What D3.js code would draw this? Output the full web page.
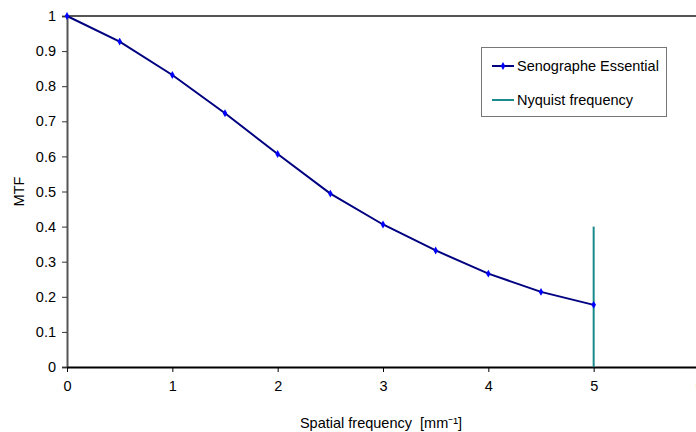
<!DOCTYPE html>
<html>
<head>
<meta charset="utf-8">
<script src="https://cdn.jsdelivr.net/npm/d3@7"></script>
<style>
  body { margin: 0; background: #fff; }
  text { font-family: "Liberation Sans", Arial, sans-serif; }
</style>
</head>
<body>
<div id="chart"></div>
<script>
// data
var freq = [0, 0.5, 1, 1.5, 2, 2.5, 3, 3.5, 4, 4.5, 5];
var mtf = [1, 0.927, 0.832, 0.723, 0.607, 0.494, 0.406, 0.332, 0.266, 0.214, 0.177];
var nyquistX = 5;
var nyquistTop = 0.4;
var xTicks = [0, 1, 2, 3, 4, 5, 6];
var yTicks = [0, 0.1, 0.2, 0.3, 0.4, 0.5, 0.6, 0.7, 0.8, 0.9, 1];

var svgWidth = 696;
var svgHeight = 432;

var margin = { top: 16, left: 67, bottom: 65 };
var plotBottom = svgHeight - margin.bottom;

var svg = d3.select("#chart")
  .append("svg")
  .attr("width", svgWidth)
  .attr("height", svgHeight);

var x = d3.scaleLinear().domain([0, 6]).range([margin.left, 699]);
var y = d3.scaleLinear().domain([0, 1]).range([plotBottom, margin.top]);

// top border line
svg.append("line")
  .attr("x1", x(0)).attr("x2", svgWidth)
  .attr("y1", y(1)).attr("y2", y(1))
  .attr("stroke", "#555").attr("stroke-width", 2);

// y axis
var yAxis = svg.append("g")
  .attr("transform", `translate(${x(0)},0)`)
  .call(d3.axisLeft(y).tickValues(yTicks).tickSize(5).tickPadding(6)
    .tickFormat(d => d3.format("~g")(d)));
yAxis.select(".domain").attr("stroke", "#555").attr("stroke-width", 2);
yAxis.selectAll(".tick line").attr("stroke", "#333");
yAxis.selectAll("text").style("font-size", "14.5px").attr("fill", "#000");

// x axis
var xAxis = svg.append("g")
  .attr("transform", `translate(0,${plotBottom})`)
  .call(d3.axisBottom(x).tickValues(xTicks).tickSize(5).tickPadding(9).tickSizeOuter(0)
    .tickFormat(d3.format("d")));
xAxis.select(".domain").attr("stroke", "#000").attr("stroke-width", 2);
xAxis.selectAll(".tick line").attr("stroke", "#000");
xAxis.selectAll("text").style("font-size", "14.5px").attr("fill", "#000");

// nyquist line
svg.append("line")
  .attr("x1", x(nyquistX)).attr("x2", x(nyquistX))
  .attr("y1", y(0)).attr("y2", y(nyquistTop))
  .attr("stroke", "#1a8a8a").attr("stroke-width", 2);

// MTF curve
var line = d3.line()
  .x((d, i) => x(freq[i]))
  .y(d => y(d));

svg.append("path")
  .datum(mtf)
  .attr("d", line)
  .attr("fill", "none")
  .attr("stroke", "#000080")
  .attr("stroke-width", 2);

svg.selectAll(".pt")
  .data(mtf)
  .enter()
  .append("path")
  .attr("class", "pt")
  .attr("d", d3.symbol().type(d3.symbolDiamond).size(18))
  .attr("transform", (d, i) => `translate(${x(freq[i])},${y(d)})`)
  .attr("fill", "#0000ff");

// axis labels
svg.append("text")
  .attr("transform", `translate(24,${(y(0) + y(1)) / 2}) rotate(-90)`)
  .attr("text-anchor", "middle")
  .style("font-size", "14.5px")
  .text("MTF");

svg.append("text")
  .attr("x", 381)
  .attr("y", 428)
  .attr("text-anchor", "middle")
  .style("font-size", "14.5px")
  .style("white-space", "pre")
  .text("Spatial frequency  [mm\u207B\u00B9]");

// legend
var legend = svg.append("g");
legend.append("rect")
  .attr("x", 481.5).attr("y", 47.5)
  .attr("width", 185).attr("height", 69)
  .attr("fill", "#fff")
  .attr("stroke", "#777").attr("stroke-width", 1);

legend.append("line")
  .attr("x1", 492).attr("x2", 514).attr("y1", 66).attr("y2", 66)
  .attr("stroke", "#000080").attr("stroke-width", 2);
legend.append("path")
  .attr("d", d3.symbol().type(d3.symbolDiamond).size(18))
  .attr("transform", "translate(503,66)")
  .attr("fill", "#0000ff");
legend.append("text")
  .attr("x", 517).attr("y", 71)
  .style("font-size", "14.5px")
  .text("Senographe Essential");

legend.append("line")
  .attr("x1", 492).attr("x2", 514).attr("y1", 100).attr("y2", 100)
  .attr("stroke", "#1a8a8a").attr("stroke-width", 2);
legend.append("text")
  .attr("x", 517).attr("y", 105)
  .style("font-size", "14.5px")
  .text("Nyquist frequency");
</script>
</body>
</html>
